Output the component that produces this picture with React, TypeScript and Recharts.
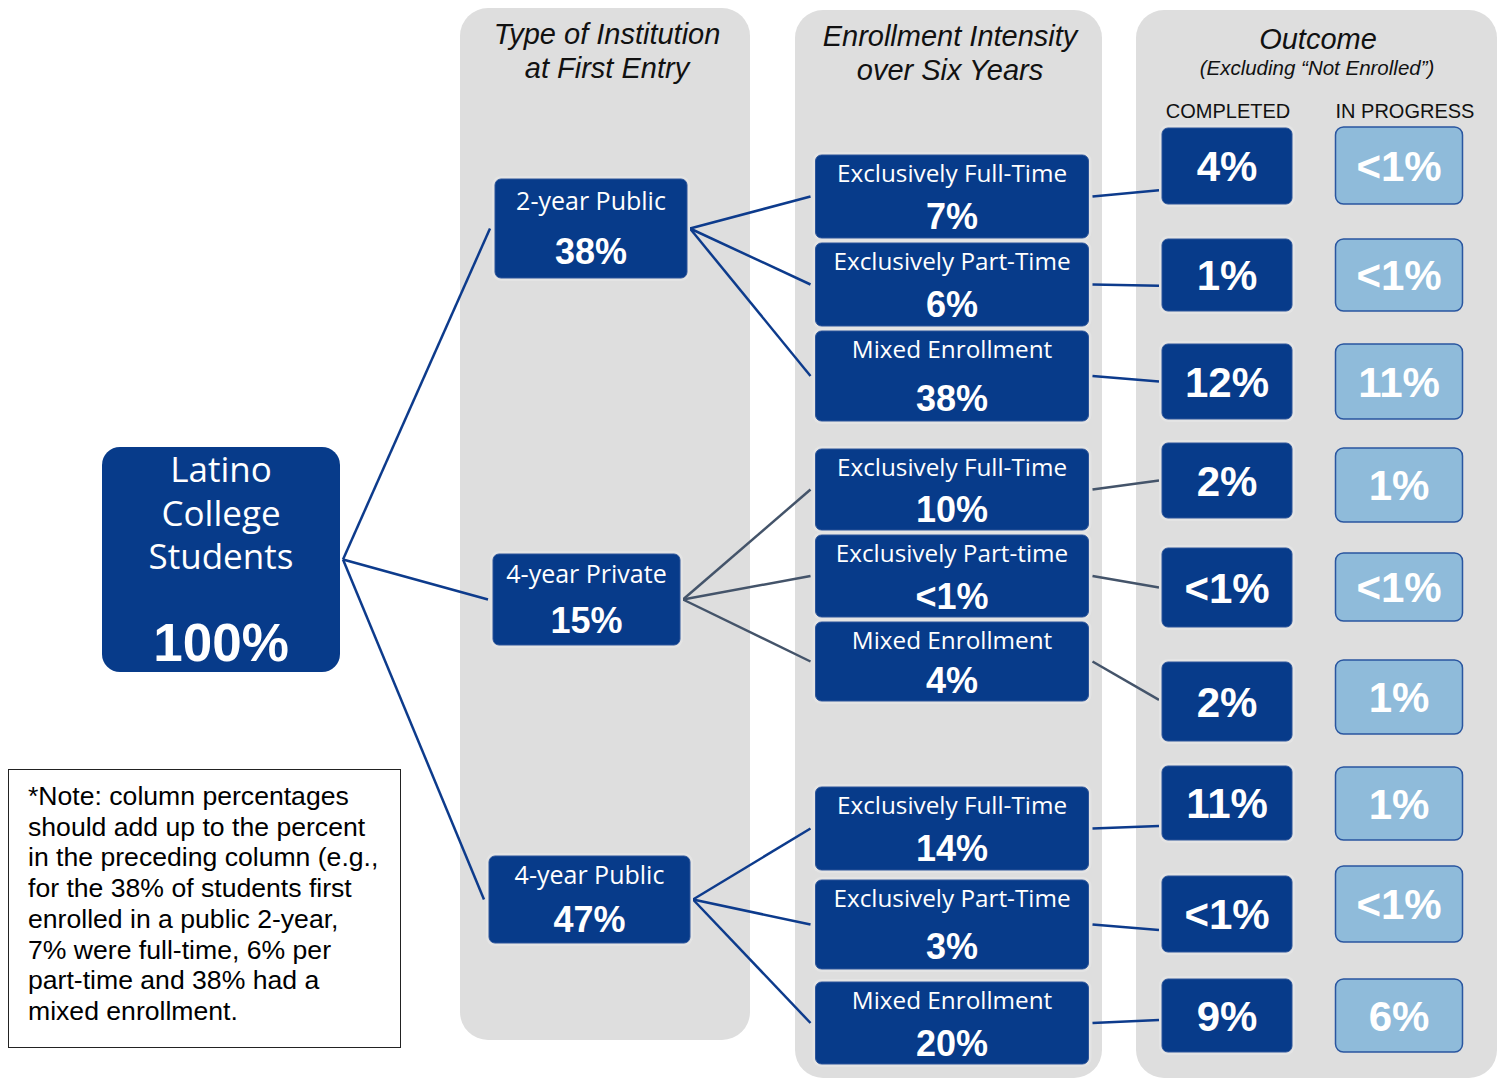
import React from 'react';
import { ScatterChart, Scatter, XAxis, YAxis, ReferenceArea, ReferenceLine } from 'recharts';

// ---------- data ----------
const rootLabel = ['Latino', 'College', 'Students'];
const rootValue = '100%';

const institutionLabels = ['2-year Public', '4-year Private', '4-year Public'];
const institutionValues = ['38%', '15%', '47%'];

const intensityLabels = [
  'Exclusively Full-Time', 'Exclusively Part-Time', 'Mixed Enrollment',
  'Exclusively Full-Time', 'Exclusively Part-time', 'Mixed Enrollment',
  'Exclusively Full-Time', 'Exclusively Part-Time', 'Mixed Enrollment',
];
const intensityValues = ['7%', '6%', '38%', '10%', '<1%', '4%', '14%', '3%', '20%'];
const intensityParent = [0, 0, 0, 1, 1, 1, 2, 2, 2];

const completedValues = ['4%', '1%', '12%', '2%', '<1%', '2%', '11%', '<1%', '9%'];
const inProgressValues = ['<1%', '<1%', '11%', '1%', '<1%', '1%', '1%', '<1%', '6%'];

const columnTitles = [
  ['Type of Institution', 'at First Entry'],
  ['Enrollment Intensity', 'over Six Years'],
  ['Outcome'],
];
const outcomeSubtitle = '(Excluding \u201cNot Enrolled\u201d)';
const outcomeHeaders = ['COMPLETED', 'IN PROGRESS'];

const noteLines = [
  '*Note: column percentages',
  'should add up to the percent',
  'in the preceding column (e.g.,',
  'for the 38% of students first',
  'enrolled in a public 2-year,',
  '7% were full-time, 6% per',
  'part-time and 38% had a',
  'mixed enrollment.',
];

// ---------- layout (positions / sizes / styles) ----------
const W = 1501;
const H = 1078;
const ROOT = { x: 221, y: 559.5, w: 238, h: 225 };
const INST_X = [591, 586.5, 589.5];
const INST_W = [192, 187, 201];
const INST_Y = [228.5, 599.5, 899.5];
const INST_H = [99, 91, 87];
const INT_X = 952;
const INT_W = 273;
const INT_Y = [196.5, 284.5, 376, 489.5, 576, 661.5, 828.5, 924.5, 1023];
const INT_H = [83, 83, 90, 81, 82, 79, 83, 89, 82];
const COMP_X = 1227;
const COMP_W = 130;
const COMP_Y = [166, 275, 381.5, 480.5, 587.5, 701.5, 803, 914, 1015.5];
const COMP_H = [76, 72, 75, 75, 79, 79, 74, 76, 73];
const PROG_X = 1399;
const PROG_W = 127;
const PROG_Y = [165.5, 275, 381.5, 485, 587, 697, 803.5, 904, 1015.5];
const PROG_H = [77, 72, 75, 74, 68, 74, 73, 76, 73];
const LINK_ANCHOR = [0.82, 0.65, 0.5, 0.5, 0.5, 0.48, 0.81, 0.71, 0.56];
const PANELS = [
  { x1: 460, x2: 750, y1: 8, y2: 1040 },
  { x1: 795, x2: 1102, y1: 10, y2: 1078 },
  { x1: 1136, x2: 1497, y1: 10, y2: 1078 },
];
const TITLE_POS = [
  [{ x: 607, y: 34 }, { x: 607, y: 68 }],
  [{ x: 950, y: 36 }, { x: 950, y: 70 }],
  [{ x: 1318, y: 39 }],
];
const SUB_POS = { x: 1317, y: 68 };
const HEAD_POS = [{ x: 1228, y: 111 }, { x: 1405, y: 111 }];

const BLUE = '#073b8a';
const LIGHT = '#8fbbda';
const PANEL = '#dedede';
const LINE_BLUE = '#0d3b8c';
const LINE_GRAY = '#44546a';
const LABEL_FONT = "'Open Sans', 'Noto Sans', sans-serif";
const NUM_FONT = "'Liberation Sans', Arial, sans-serif";

// ---------- build node table ----------
type Node = { x: number; y: number; w: number; h: number; kind: string; label?: string; value: string };

const nodes: Node[] = [
  { x: ROOT.x, y: ROOT.y, w: ROOT.w, h: ROOT.h, kind: 'root', value: rootValue },
  ...institutionLabels.map((l, i) => ({ x: INST_X[i], y: INST_Y[i], w: INST_W[i], h: INST_H[i], kind: 'inst', label: l, value: institutionValues[i] })),
  ...intensityLabels.map((l, i) => ({ x: INT_X, y: INT_Y[i], w: INT_W, h: INT_H[i], kind: 'int', label: l, value: intensityValues[i] })),
  ...completedValues.map((v, i) => ({ x: COMP_X, y: COMP_Y[i], w: COMP_W, h: COMP_H[i], kind: 'comp', value: v })),
  ...inProgressValues.map((v, i) => ({ x: PROG_X, y: PROG_Y[i], w: PROG_W, h: PROG_H[i], kind: 'prog', value: v })),
];

type Edge = { x1: number; y1: number; x2: number; y2: number; color: string };
const edges: Edge[] = [
  ...institutionLabels.map((_, i) => ({
    x1: ROOT.x + ROOT.w / 2 + 3, y1: ROOT.y,
    x2: INST_X[i] - INST_W[i] / 2 - 5, y2: INST_Y[i], color: LINE_BLUE,
  })),
  ...intensityLabels.map((_, i) => {
    const p = intensityParent[i];
    return {
      x1: INST_X[p] + INST_W[p] / 2 + 3, y1: INST_Y[p],
      x2: INT_X - INT_W / 2 - 5, y2: INT_Y[i], color: p === 1 ? LINE_GRAY : LINE_BLUE,
    };
  }),
  ...completedValues.map((_, i) => ({
    x1: INT_X + INT_W / 2 + 4, y1: INT_Y[i],
    x2: COMP_X - COMP_W / 2 - 3, y2: COMP_Y[i] - COMP_H[i] / 2 + LINK_ANCHOR[i] * COMP_H[i],
    color: intensityParent[i] === 1 ? LINE_GRAY : LINE_BLUE,
  })),
];

type Heading = { x: number; y: number; text: string; kind: string };
const headings: Heading[] = [
  ...columnTitles.flatMap((lines, c) => lines.map((t, j) => ({ x: TITLE_POS[c][j].x, y: TITLE_POS[c][j].y, text: t, kind: 'title' }))),
  { x: SUB_POS.x, y: SUB_POS.y, text: outcomeSubtitle, kind: 'sub' },
  ...outcomeHeaders.map((t, i) => ({ x: HEAD_POS[i].x, y: HEAD_POS[i].y, text: t, kind: 'head' })),
];

// ---------- shapes ----------
const NodeShape = (props: any) => {
  const { cx, cy, payload } = props;
  const n: Node = payload;
  const left = cx - n.w / 2;
  const top = cy - n.h / 2;
  if (n.kind === 'root') {
    return (
      <g>
        <rect x={left} y={top} width={n.w} height={n.h} rx={18} fill={BLUE} />
        {rootLabel.map((t, i) => (
          <text key={i} x={cx} y={top + 23 + i * 43.5 + 12} textAnchor="middle" fill="#fff" fontFamily={LABEL_FONT} fontSize={35}>{t}</text>
        ))}
        <text x={cx} y={top + 195 + 19} textAnchor="middle" fill="#fff" fontFamily={NUM_FONT} fontWeight="bold" fontSize={53}>{n.value}</text>
      </g>
    );
  }
  if (n.kind === 'inst' || n.kind === 'int') {
    const lf = n.kind === 'inst' ? 25 : 24.3;
    const ly = n.kind === 'inst' ? top + 0.22 * n.h : top + 18.5;
    const vy = n.kind === 'inst' ? top + 0.73 * n.h : top + 0.74 * n.h;
    return (
      <g>
        <rect x={left - 3} y={top - 3} width={n.w + 6} height={n.h + 6} rx={9} fill="#e4e4e4" />
        <rect x={left} y={top} width={n.w} height={n.h} rx={6} fill={BLUE} stroke="#2c549a" strokeWidth={1} />
        <text x={cx} y={ly + lf * 0.36} textAnchor="middle" fill="#fff" fontFamily={LABEL_FONT} fontSize={lf}>{n.label}</text>
        <text x={cx} y={vy + 36 * 0.36} textAnchor="middle" fill="#fff" fontFamily={NUM_FONT} fontWeight="bold" fontSize={36}>{n.value}</text>
      </g>
    );
  }
  const isComp = n.kind === 'comp';
  return (
    <g>
      {isComp && <rect x={left - 3} y={top - 3} width={n.w + 6} height={n.h + 6} rx={9} fill="#e4e4e4" />}
      <rect x={left} y={top} width={n.w} height={n.h} rx={isComp ? 6 : 8}
        fill={isComp ? BLUE : LIGHT} stroke={isComp ? '#2c549a' : '#2a56a0'} strokeWidth={isComp ? 1 : 1.5} />
      <text x={cx} y={cy + 42 * 0.36} textAnchor="middle" fill="#fff" fontFamily={NUM_FONT} fontWeight="bold" fontSize={42}>{n.value}</text>
    </g>
  );
};

const HeadingShape = (props: any) => {
  const { cx, cy, payload } = props;
  const h: Heading = payload;
  const fs = h.kind === 'title' ? 29 : h.kind === 'sub' ? 20.5 : 20;
  return (
    <text x={cx} y={cy + fs * 0.36} textAnchor="middle" fill="#111" fontFamily={NUM_FONT}
      fontStyle={h.kind === 'head' ? 'normal' : 'italic'} fontSize={fs}>{h.text}</text>
  );
};

const PanelShape = (props: any) => {
  const { x, y, width, height } = props;
  return <rect x={x} y={y} width={width} height={height} rx={28} ry={28} fill={PANEL} />;
};

export default function App() {
  return (
    <div style={{ position: 'absolute', left: 0, top: 0, width: W, height: H, background: '#fff' }}>
      <ScatterChart width={W} height={H} margin={{ top: 0, right: 0, bottom: 0, left: 0 }}>
        <XAxis type="number" dataKey="x" domain={[0, W]} hide allowDataOverflow />
        <YAxis type="number" dataKey="y" domain={[0, H]} reversed hide allowDataOverflow />
        {PANELS.map((p, i) => (
          <ReferenceArea key={`p${i}`} x1={p.x1} x2={p.x2} y1={p.y1} y2={p.y2} shape={PanelShape} ifOverflow="visible" />
        ))}
        {edges.map((e, i) => (
          <ReferenceLine key={`e${i}`} segment={[{ x: e.x1, y: e.y1 }, { x: e.x2, y: e.y2 }]}
            stroke={e.color} strokeWidth={2.5} ifOverflow="visible" />
        ))}
        <Scatter data={headings} shape={HeadingShape} isAnimationActive={false} />
        <Scatter data={nodes} shape={NodeShape} isAnimationActive={false} />
      </ScatterChart>
      <div style={{
        position: 'absolute', left: 8, top: 769, width: 393, height: 279, boxSizing: 'border-box',
        border: '1.5px solid #222', background: '#fff', padding: '11px 0 0 19px',
        fontFamily: NUM_FONT, fontSize: 26.6, lineHeight: '30.7px', color: '#000', whiteSpace: 'nowrap',
      }}>
        {noteLines.map((l, i) => <div key={i}>{l}</div>)}
      </div>
    </div>
  );
}
